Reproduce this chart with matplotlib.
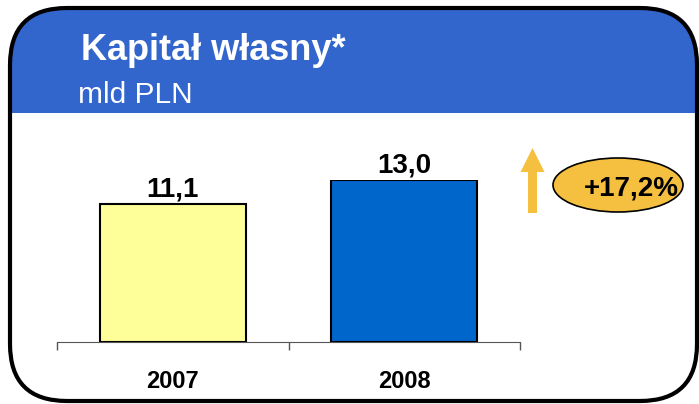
import matplotlib.pyplot as plt
from matplotlib.patches import FancyBboxPatch, Rectangle, Ellipse, FancyArrow

plt.rcParams['font.family'] = ['Liberation Sans', 'DejaVu Sans']

years = ['2007', '2008']
values = [11.1, 13.0]
value_labels = ['11,1', '13,0']
bar_colors = ['#FFFF99', '#0066CC']
title = 'Kapitał własny*'
unit = 'mld PLN'
change = '+17,2%'

W, H = 699, 404
fig = plt.figure(figsize=(W / 100, H / 100), dpi=100)

# background panel in pixel coordinates
bg = fig.add_axes([0, 0, 1, 1])
bg.set_xlim(0, W)
bg.set_ylim(H, 0)
bg.axis('off')

box = FancyBboxPatch((10, 8), 687, 393, boxstyle='round,pad=0,rounding_size=57',
                     facecolor='white', edgecolor='none', zorder=1)
bg.add_patch(box)
header = Rectangle((0, 0), W, 113, facecolor='#3366CC', edgecolor='none', zorder=2)
bg.add_patch(header)
header.set_clip_path(box)
border = FancyBboxPatch((10, 8), 687, 393, boxstyle='round,pad=0,rounding_size=57',
                        facecolor='none', edgecolor='black', linewidth=3, zorder=3)
bg.add_patch(border)

bg.text(81, 60, title, color='white', fontsize=26, fontweight='bold', va='baseline', ha='left')
bg.text(78, 103, unit, color='white', fontsize=21.5, va='baseline', ha='left')

# growth arrow and badge
bg.add_patch(FancyArrow(532.5, 213, 0, -65, width=9, head_width=24, head_length=24,
                        length_includes_head=True, color='#F5C040', linewidth=0, zorder=4))
bg.add_patch(Ellipse((618, 185), 130, 54, facecolor='#F5C040', edgecolor='black',
                     linewidth=1.2, zorder=4))
bg.text(631, 195, change, fontsize=20, fontweight='bold', ha='center', va='baseline', zorder=5)

# bar chart
ax = fig.add_axes([57 / W, 1 - 342 / H, (520 - 57) / W, 162 / H])
ax.patch.set_alpha(0)
x = range(len(years))
ax.bar(x, values, width=0.63, color=bar_colors, edgecolor='black', linewidth=1.5, zorder=3)
for xi, v, lab in zip(x, values, value_labels):
    ax.annotate(lab, (xi, v), xytext=(0, 5.5), textcoords='offset points',
                ha='center', va='baseline', fontsize=20, fontweight='bold')
ax.set_xlim(-0.5, 1.5)
ax.set_ylim(0, 13.0)
ax.set_yticks([])
ax.set_xticks([-0.5, 0.5, 1.5])
ax.set_xticklabels([])
ax.tick_params(axis='x', direction='out', length=6, color='#555555', width=1)
for s in ['top', 'right', 'left']:
    ax.spines[s].set_visible(False)
ax.spines['bottom'].set_color('#555555')
for xi, yr in zip(x, years):
    ax.annotate(yr, (xi, 0), xytext=(0, -33), textcoords='offset points',
                ha='center', va='baseline', fontsize=17, fontweight='bold')

fig.savefig('out.png', dpi=100)
